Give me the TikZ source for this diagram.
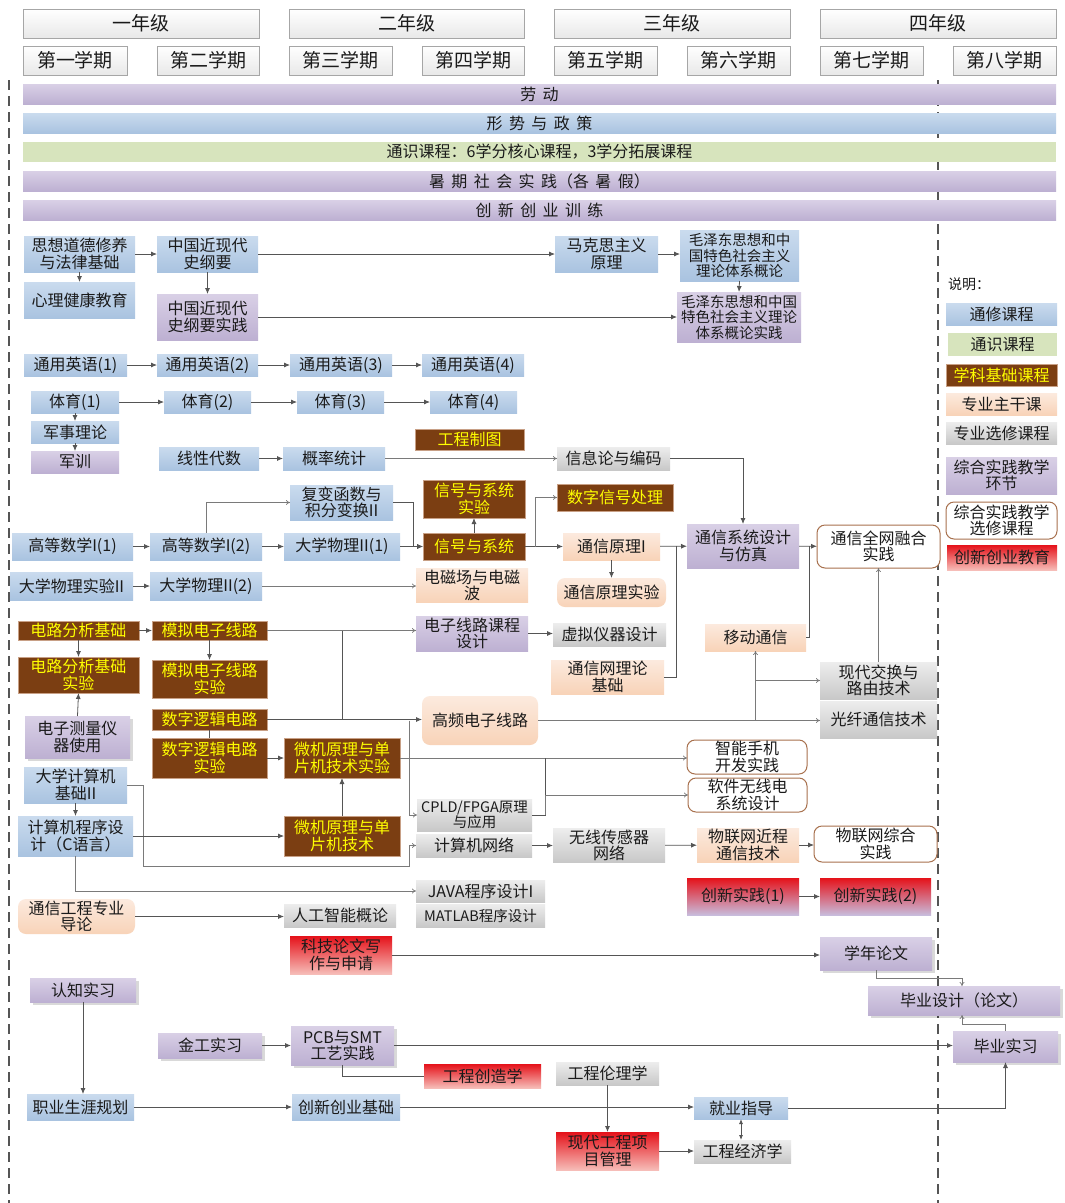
\documentclass[tikz,border=0pt]{standalone}
\usepackage{fontspec}
\setmainfont{Noto Sans CJK SC}
\usetikzlibrary{arrows.meta,calc,shadows}
\definecolor{bluT}{HTML}{CADBEE}
\definecolor{bluB}{HTML}{A9C3E0}
\definecolor{purT}{HTML}{D9D0E6}
\definecolor{purB}{HTML}{BDB0D2}
\definecolor{grnC}{HTML}{D7E4BD}
\definecolor{brnC}{HTML}{7B3E12}
\definecolor{brnD}{HTML}{C8A086}
\definecolor{pchT}{HTML}{FCEADE}
\definecolor{pchB}{HTML}{F8D3B8}
\definecolor{gryT}{HTML}{EDEDED}
\definecolor{gryB}{HTML}{C8C8C8}
\definecolor{redT}{HTML}{E5121A}
\definecolor{redB}{HTML}{F6BDB8}
\definecolor{lavB}{HTML}{C8BCDC}
\definecolor{optD}{HTML}{A8714E}
\definecolor{lnC}{HTML}{555555}
\definecolor{lnT}{HTML}{7A7A7A}
\definecolor{txtC}{HTML}{1A1A1A}
\definecolor{yelC}{HTML}{FFFF00}
\newcommand\fs{\fontsize{16}{16.5}\selectfont}
\newcommand\fsx{\fontsize{14.5}{15.5}\selectfont}
\newcommand\fh{\fontsize{19}{20}\selectfont}
\newcommand\fb{\fontsize{16}{17}\selectfont}
\newcommand\fsm{\fontsize{14}{15.5}\selectfont}
\newcommand\gp{\hspace{0.4em}}
\newcommand\bx[7]{\node[#2, minimum width={(#5-#3)*1pt}, minimum height={(#6-#4)*1pt}] (#1) at ({(#3+#5)/2},{(#4+#6)/2}) {#7};}
\tikzset{
  box/.style={inner sep=1pt, outer sep=0pt, align=center, font=\fs, text=txtC},
  hdr/.style={box, draw=gray!70, top color=white, bottom color=gray!18, font=\fh},
  blu/.style={box, top color=bluT, bottom color=bluB},
  pur/.style={box, top color=purT, bottom color=purB},
  purs/.style={pur, drop shadow={shadow xshift=3pt, shadow yshift=-3pt, fill=black, opacity=0.15}},
  grn/.style={box, fill=grnC},
  brn/.style={box, fill=brnC, draw=brnD, line width=0.5pt, text=yelC},
  pch/.style={box, top color=pchT, bottom color=pchB},
  pchr/.style={pch, rounded corners=8pt},
  gry/.style={box, top color=gryT, bottom color=gryB},
  redc/.style={box, top color=redT, bottom color=redB},
  redl/.style={box, top color=redT, bottom color=lavB},
  opt/.style={box, fill=white, draw=optD, line width=1pt, rounded corners=8pt},
  arr/.style={draw=lnC, line width=0.8pt, -{Latex[length=6pt,width=5pt]}},
  arrt/.style={draw=lnT, line width=0.7pt, -{To[length=4pt,width=5pt]}},
  ln/.style={draw=lnC, line width=0.8pt},
  dsh/.style={draw=lnC, line width=1.5pt, dash pattern=on 10pt off 6pt}
}
\begin{document}
\begin{tikzpicture}[x=1pt,y=-1pt]
\useasboundingbox[fill=white] (0,0) rectangle (1065,1203);
\coordinate (dlt) at (9,80);
\coordinate (dlb) at (9,1203);
\coordinate (drt) at (938,80);
\coordinate (drb) at (938,1203);
\draw[dsh] (dlt) -- (dlb);
\draw[dsh] (drt) -- (drb);
% headers
\bx{y1}{hdr}{23}{9}{259}{38}{一年级}
\bx{y2}{hdr}{289}{9}{524}{38}{二年级}
\bx{y3}{hdr}{554}{9}{790}{38}{三年级}
\bx{y4}{hdr}{820}{9}{1056}{38}{四年级}
\bx{s1}{hdr}{23}{46}{127}{75}{第一学期}
\bx{s2}{hdr}{157}{46}{259}{75}{第二学期}
\bx{s3}{hdr}{289}{46}{392}{75}{第三学期}
\bx{s4}{hdr}{422}{46}{524}{75}{第四学期}
\bx{s5}{hdr}{554}{46}{657}{75}{第五学期}
\bx{s6}{hdr}{687}{46}{790}{75}{第六学期}
\bx{s7}{hdr}{820}{46}{923}{75}{第七学期}
\bx{s8}{hdr}{953}{46}{1056}{75}{第八学期}
% bands
\bx{b1}{pur,font=\fb}{23}{84}{1056}{104}{劳\gp 动}
\bx{b2}{blu,font=\fb}{23}{113}{1056}{133}{形\gp 势\gp 与\gp 政\gp 策}
\bx{b3}{grn,font=\fb}{23}{142}{1056}{162}{通识课程：6学分核心课程，3学分拓展课程}
\bx{b4}{pur,font=\fb}{23}{171}{1056}{191}{暑\gp 期\gp 社\gp 会\gp 实\gp 践（各\gp 暑\gp 假）}
\bx{b5}{pur,font=\fb}{23}{200}{1056}{220}{创\gp 新\gp 创\gp 业\gp 训\gp 练}
% politics
\bx{sx}{blu}{24}{236}{135}{272}{思想道德修养\\与法律基础}
\bx{xl}{blu}{24}{282}{135}{318}{心理健康教育}
\bx{gy}{blu}{157}{236}{258}{272}{中国近现代\\史纲要}
\bx{gysj}{pur}{157}{294}{258}{340}{中国近现代\\史纲要实践}
\bx{mks}{blu}{555}{236}{658}{272}{马克思主义\\原理}
\bx{mg}{blu,font=\fsx}{680}{230}{799}{281}{毛泽东思想和中\\国特色社会主义\\理论体系概论}
\bx{mgsj}{pur,font=\fsx}{677}{292}{801}{342}{毛泽东思想和中国\\特色社会主义理论\\体系概论实践}
% english
\bx{en1}{blu}{24}{354}{127}{376}{通用英语(1)}
\bx{en2}{blu}{157}{354}{258}{376}{通用英语(2)}
\bx{en3}{blu}{290}{354}{392}{376}{通用英语(3)}
\bx{en4}{blu}{422}{354}{524}{376}{通用英语(4)}
% PE
\bx{pe1}{blu}{31}{391}{119}{413}{体育(1)}
\bx{pe2}{blu}{164}{391}{251}{413}{体育(2)}
\bx{pe3}{blu}{297}{391}{384}{413}{体育(3)}
\bx{pe4}{blu}{430}{391}{517}{413}{体育(4)}
\bx{js}{blu}{31}{421}{119}{443}{军事理论}
\bx{jx}{pur}{31}{451}{119}{473}{军训}
\bx{gczt}{brn}{415}{429}{524}{450}{工程制图}
\bx{xxds}{blu}{159}{447}{259}{470}{线性代数}
\bx{gl}{blu}{283}{447}{385}{470}{概率统计}
\bx{xxl}{gry}{557}{447}{670}{470}{信息论与编码}
% math / signals
\bx{fbh}{blu}{290}{485}{393}{520}{复变函数与\\积分变换II}
\bx{gs1}{blu}{12}{533}{133}{560}{高等数学I(1)}
\bx{gs2}{blu}{150}{533}{262}{560}{高等数学I(2)}
\bx{dw1}{blu}{284}{533}{400}{560}{大学物理II(1)}
\bx{xhsy}{brn}{423}{480}{525}{518}{信号与系统\\实验}
\bx{xh}{brn}{423}{533}{525}{560}{信号与系统}
\bx{sz}{brn}{557}{484}{673}{511}{数字信号处理}
\bx{tx}{pch}{563}{533}{660}{560}{通信原理I}
\bx{txsy}{pchr}{557}{578}{666}{607}{通信原理实验}
\bx{txxt}{pur}{687}{524}{799}{568}{通信系统设计\\与仿真}
\bx{qw}{opt}{817}{525}{940}{568}{通信全网融合\\实践}
\bx{dwsy}{blu}{10}{572}{133}{600}{大学物理实验II}
\bx{dw2}{blu}{150}{572}{262}{600}{大学物理II(2)}
\bx{dc}{pch}{416}{570}{528}{601}{电磁场与电磁\\波}
% circuits
\bx{dl}{brn}{18}{621}{139}{640}{电路分析基础}
\bx{mn}{brn}{152}{621}{267}{640}{模拟电子线路}
\bx{dlsy}{brn}{18}{657}{139}{693}{电路分析基础\\实验}
\bx{mnsy}{brn}{152}{660}{267}{698}{模拟电子线路\\实验}
\bx{dz}{purs}{25}{716}{130}{758}{电子测量仪\\器使用}
\bx{sl}{brn}{152}{709}{267}{730}{数字逻辑电路}
\bx{slsy}{brn}{152}{738}{267}{778}{数字逻辑电路\\实验}
\bx{wjsy}{brn}{284}{738}{400}{778}{微机原理与单\\片机技术实验}
\bx{dzkc}{pur}{416}{616}{528}{651}{电子线路课程\\设计}
\bx{xnyq}{gry}{553}{623}{666}{646}{虚拟仪器设计}
\bx{txw}{pch}{551}{660}{664}{694}{通信网理论\\基础}
\bx{yd}{pch}{705}{624}{806}{651}{移动通信}
\bx{gp}{pchr}{422}{696}{538}{745}{高频电子线路}
\bx{jh}{gry}{820}{662}{937}{699}{现代交换与\\路由技术}
\bx{gx}{gry}{820}{701}{937}{738}{光纤通信技术}
\bx{zn}{opt}{687}{740}{807}{774}{智能手机\\开发实践}
\bx{rj}{opt}{688}{778}{807}{812}{软件无线电\\系统设计}
% computer
\bx{dj}{blu}{24}{767}{127}{803}{大学计算机\\基础II}
\bx{cx}{blu}{18}{816}{133}{856}{计算机程序设\\计（C语言）}
\bx{wj}{brn}{284}{816}{400}{856}{微机原理与单\\片机技术}
\bx{cpld}{gry,font=\fsx}{417}{799}{532}{831}{CPLD/FPGA原理\\与应用}
\bx{wl}{gry}{416}{834}{532}{857}{计算机网络}
\bx{wx}{gry}{553}{834}{665}{857}{无线传感器\\网络}
\bx{wlj}{pch}{697}{828}{799}{862}{物联网近程\\通信技术}
\bx{wlz}{opt}{814}{826}{937}{862}{物联网综合\\实践}
\bx{cs1}{redl}{687}{878}{799}{915}{创新实践(1)}
\bx{cs2}{redl}{820}{878}{931}{915}{创新实践(2)}
\bx{java}{gry}{416}{880}{545}{902}{JAVA程序设计I}
\bx{mat}{gry,font=\fsx}{416}{904}{545}{927}{MATLAB程序设计}
\bx{dlun}{pchr}{18}{899}{135}{934}{通信工程专业\\导论}
\bx{rg}{gry}{284}{904}{396}{927}{人工智能概论}
\bx{kj}{redc}{290}{936}{392}{974}{科技论文写\\作与申请}
\bx{xnlw}{purs}{820}{937}{932}{970}{学年论文}
\bx{bs}{purs}{868}{986}{1060}{1015}{毕业设计（论文）}
\bx{bsx}{purs}{953}{1031}{1058}{1062}{毕业实习}
\bx{rz}{purs}{30}{978}{136}{1002}{认知实习}
\bx{jg}{purs}{158}{1033}{262}{1058}{金工实习}
\bx{pcb}{purs}{291}{1026}{394}{1065}{PCB与SMT\\工艺实践}
\bx{gccz}{redc}{424}{1064}{541}{1088}{工程创造学}
\bx{gcll}{gry}{556}{1062}{659}{1085}{工程伦理学}
\bx{zy}{blu}{27}{1094}{134}{1120}{职业生涯规划}
\bx{cxcy}{blu}{292}{1094}{400}{1120}{创新创业基础}
\bx{jy}{blu}{694}{1097}{788}{1119}{就业指导}
\bx{xdgc}{redc}{556}{1132}{659}{1170}{现代工程项\\目管理}
\bx{jj}{gry}{694}{1140}{791}{1163}{工程经济学}
% legend
\node[anchor=west, inner sep=0pt, font=\fsm, text=txtC] (smt) at (948,284) {说明：};
\bx{l1}{blu}{946}{303}{1057}{325}{通修课程}
\bx{l2}{grn}{948}{333}{1057}{356}{通识课程}
\bx{l3}{brn}{946}{364}{1057}{386}{学科基础课程}
\bx{l4}{pch}{946}{393}{1057}{415}{专业主干课}
\bx{l5}{gry}{946}{422}{1057}{444}{专业选修课程}
\bx{l6}{pur}{946}{457}{1057}{494}{综合实践教学\\环节}
\bx{l7}{opt}{946}{502}{1057}{539}{综合实践教学\\选修课程}
\bx{l8}{redc}{947}{545}{1057}{570}{创新创业教育}
% ---------- connectors ----------
\draw[arr] (sx) -- (gy);
\draw[arr] (sx.south) -- (xl.north);
\draw[arr] (gy.south) -- (gysj.north);
\draw[arr] (gy) -- (mks);
\draw[arr] (mks.east) -- (mks.east -| mg.west);
\draw[arr] (mg.south) -- (mgsj.north);
\draw[arr] (gysj.east) -- (gysj.east -| mgsj.west);
\draw[arr] (en1) -- (en2);
\draw[arr] (en2) -- (en3);
\draw[arr] (en3) -- (en4);
\draw[arr] (pe1) -- (pe2);
\draw[arr] (pe2) -- (pe3);
\draw[arr] (pe3) -- (pe4);
\draw[arr] (pe1.south) -- (js.north);
\draw[arr] (js.south) -- (jx.north);
\draw[arr] (xxds) -- (gl);
\draw[arrt] (gl.east) -- (gl.east -| xxl.west);
\draw[arr] (xxl.east) -| (txxt.north);
\draw[arr] (gs1) -- (gs2);
\draw[arr] (gs2) -- (dw1);
\draw[arrt] (gs2.north) |- (fbh.west);
\draw[arr] (fbh.east) -| ($(xh.west)+(-10,0)$) -- (xh.west);
\draw[arr] (dw1) -- (xh);
\draw[arr] (xh.north) -- (xhsy.south);
\draw[arr] (xh) -- (tx);
\draw[arrt] ($(xh.east)+(10,0)$) |- (sz.west);
\draw[arr] (tx.south) -- (txsy.north);
\draw[arr] (tx) -- (txxt);
\draw[ln] (txw.east) -| ($(txxt.west)+(-11,0)$);
\draw[arr] (txxt) -- (qw);
\draw[ln] (yd.east) -| ($(txxt.east)+(10,0)$);
\draw[arr] (dwsy) -- (dw2);
\draw[arrt] (dw2.east) -- (dw2.east -| dc.west);
\draw[arr] (dl) -- (mn);
\draw[arr] (dl.south) -- (dlsy.north);
\draw[arr] (mn.south) -- (mnsy.north);
\draw[arr] (dz.north) -- (dlsy.south);
\draw[arrt] (mn.east) -- (mn.east -| dzkc.west);
\draw[ln] (wjsy.north |- mn.east) -- (wjsy.north |- sl.east);
\draw[arr] (sl.east) -- (sl.east -| gp.west);
\draw[ln] (sl.south) -- (slsy.north);
\draw[arr] (slsy) -- (wjsy);
\draw[arr] (wj.north) -- (wjsy.south);
\draw[arr] (dzkc.east) -- (dzkc.east -| xnyq.west);
\draw[arrt] (gp.east) -- (gp.east -| gx.west);
\draw[arrt] (yd.south |- gp.east) -- (yd.south);
\draw[arrt] (yd.south |- jh.west) -- (jh.west);
\draw[arrt] (jh.north) -- (qw.south);
\draw[arrt] (wjsy.east) -- (wjsy.east -| zn.west);
\draw[arrt] ($(gp.west)+(-13,0)$) |- (cpld.west);
\draw[ln] (cpld.east) -| ($(wjsy.east)+(145,0)$);
\draw[arrt] ($(cpld.east)+(13,0)$) |- (rj.west);
\draw[arr] (dj.south) -- (dj.south |- cx.north);
\draw[arrt] (dj.east) -- ++(16,0) |- ($(wl.west)+(-7,21)$) |- (wl.west);
\draw[arr] (cx) -- (wj);
\draw[arrt] (cx.south) |- (java.west);
\draw[arr] (wl) -- (wx);
\draw[arr] (wx) -- (wlj);
\draw[arr] (wlj.east) -- (wlj.east -| wlz.west);
\draw[arr] (cs1) -- (cs2);
\draw[arr] (dlun.east) -- (dlun.east -| rg.west);
\draw[arr] (kj.east) -- (kj.east -| xnlw.west);
\draw[arrt] (xnlw.south) |- ($(bs.north)+(-2,-8)$) -- ($(bs.north)+(-2,0)$);
\draw[arrt] (bsx.north) |- ($(bs.south)+(-2,9)$) -- ($(bs.south)+(-2,0)$);
\draw[arr] (rz.south) -- (rz.south |- zy.north);
\draw[arr] (jg) -- (pcb);
\draw[arr] (pcb.east) -- (pcb.east -| bsx.west);
\draw[ln] (pcb.south) |- (gccz.west);
\draw[arr] (zy) -- (cxcy);
\draw[arr] (cxcy.east) -- (cxcy.east -| jy.west);
\draw[arr] (gcll.south) -- (xdgc.north);
\draw[arr] (xdgc.east) -- (xdgc.east -| jj.west);
\draw[draw=lnC, line width=0.8pt, {Latex[length=5pt,width=4pt]}-{Latex[length=5pt,width=4pt]}] (jy.south) -- (jy.south |- jj.north);
\draw[arr] (jy.east) -| (bsx.south);
\end{tikzpicture}
\end{document}
